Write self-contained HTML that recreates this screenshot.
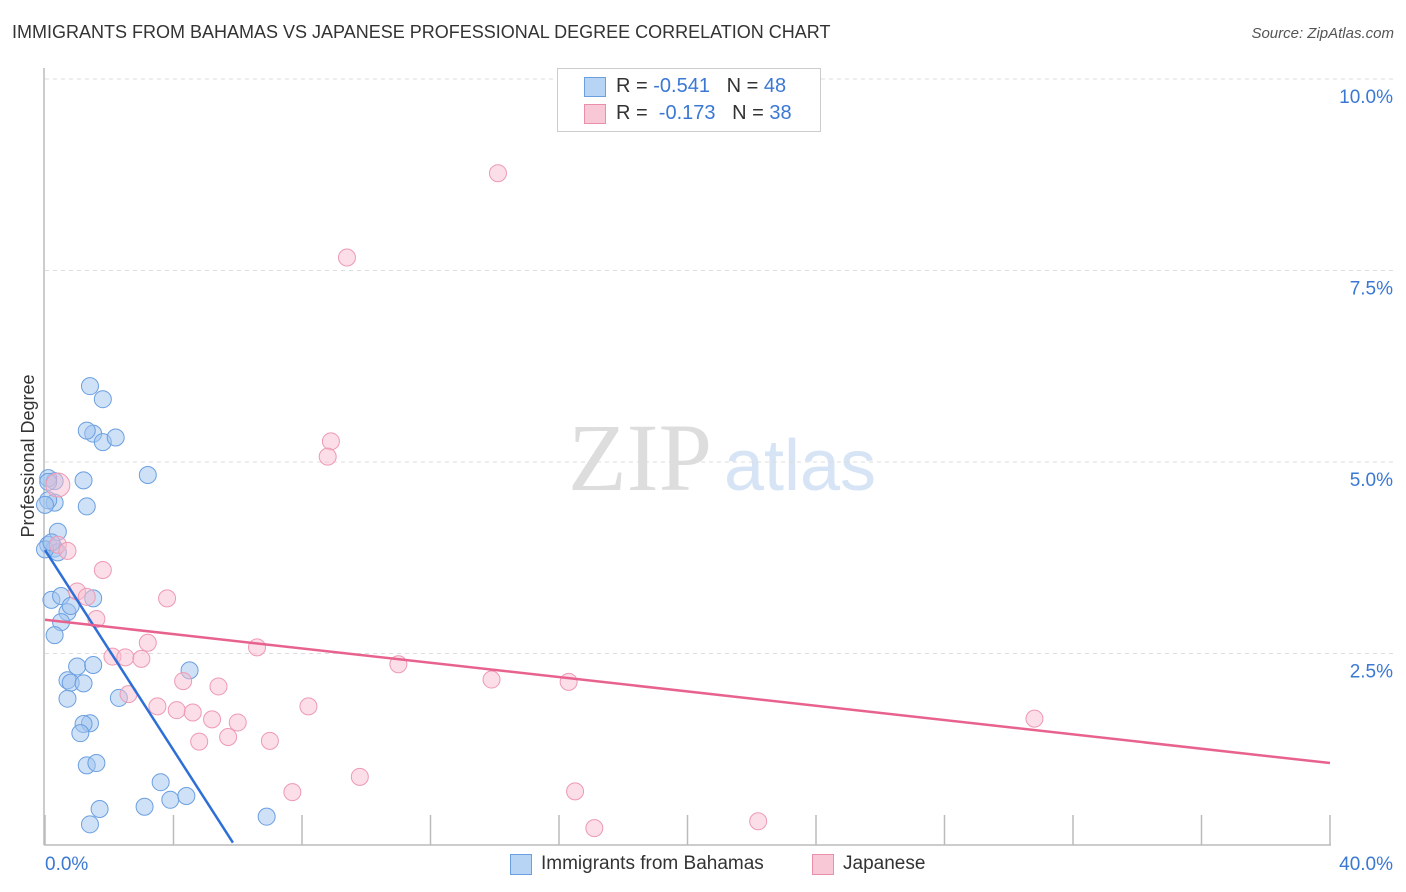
<!DOCTYPE html>
<html><head><meta charset="utf-8"><style>
body{margin:0;background:#fff;font-family:"Liberation Sans",sans-serif;}
#wrap{position:relative;width:1406px;height:892px;overflow:hidden;}
.t{position:absolute;white-space:nowrap;}
</style></head><body>
<div id="wrap">
<div class="t" style="left:12px;top:22px;font-size:18px;color:#333;">IMMIGRANTS FROM BAHAMAS VS JAPANESE PROFESSIONAL DEGREE CORRELATION CHART</div>
<div class="t" style="right:12px;top:25px;font-size:15px;color:#555;font-style:italic;">Source: ZipAtlas.com</div>
<svg id="svg" width="1406" height="892" style="position:absolute;left:0;top:0">
<text x="640" y="490" font-size="96" font-family="Liberation Serif" fill="#ddd" text-anchor="middle">ZIP</text>
<text x="800" y="490" font-size="72" font-family="Liberation Sans" fill="#d6e4f5" text-anchor="middle">atlas</text>
<text transform="translate(34,456) rotate(-90)" font-size="18" fill="#333" text-anchor="middle">Professional Degree</text>
<g id="grid"></g><g id="pts"></g><g id="lines"></g>
</svg>
<div style="position:absolute;left:557px;top:68px;width:262px;height:62px;border:1px solid #ccc;background:#fff;">
 <div style="position:absolute;left:26px;top:8px;width:20px;height:18px;background:#b8d4f5;border:1px solid #6a9fe0;"></div>
 <div class="t" style="left:58px;top:6px;font-size:20px;color:#333;">R = <span style="color:#3a78d4">-0.541</span> &nbsp; N = <span style="color:#3a78d4">48</span></div>
 <div style="position:absolute;left:26px;top:35px;width:20px;height:18px;background:#f9c8d6;border:1px solid #e890aa;"></div>
 <div class="t" style="left:58px;top:33px;font-size:20px;color:#333;">R = &nbsp;<span style="color:#3a78d4">-0.173</span> &nbsp; N = <span style="color:#3a78d4">38</span></div>
</div>
<div style="position:absolute;left:510px;top:854px;width:20px;height:19px;background:#b8d4f5;border:1px solid #6a9fe0;"></div>
<div class="t" style="left:541px;top:853px;font-size:19px;color:#333;">Immigrants from Bahamas</div>
<div style="position:absolute;left:812px;top:854px;width:20px;height:19px;background:#f9c8d6;border:1px solid #e890aa;"></div>
<div class="t" style="left:843px;top:853px;font-size:19px;color:#333;">Japanese</div>
</div>
<script>
const yTicks=[2.5,5.0,7.5,10.0];
const yTickLabels=["2.5%","5.0%","7.5%","10.0%"];
const xTickLabels=["0.0%","40.0%"];
const blueX=[1.4,1.8,1.5,1.3,1.8,2.2,3.2,0.3,0.1,1.2,1.3,0.3,0.4,0.1,0.3,0.4,1.5,0.2,0.5,0.7,0.5,0.3,0.8,4.5,0.7,0.8,1.0,1.5,1.2,2.3,0.7,1.4,1.2,1.1,1.3,1.6,3.6,3.9,4.4,3.1,1.7,1.4,6.9,0.0,0.1,0.1,0.0,0.2];
const blueY=[5.99,5.82,5.37,5.41,5.26,5.32,4.83,4.75,4.79,4.76,4.42,4.47,4.09,3.92,3.87,3.82,3.22,3.20,3.25,3.04,2.91,2.74,3.12,2.28,2.15,2.12,2.33,2.35,2.11,1.92,1.91,1.59,1.58,1.46,1.04,1.07,0.82,0.59,0.64,0.50,0.47,0.27,0.37,3.86,4.74,4.50,4.44,3.95];
const pinkX=[14.1,9.4,8.9,8.8,0.4,0.4,0.7,1.8,3.8,1.0,1.3,1.6,3.2,6.6,2.1,2.5,3.0,11.0,13.9,16.3,30.8,4.3,5.4,2.6,3.5,4.1,4.6,8.2,5.2,6.0,5.7,4.8,7.0,9.8,7.7,16.5,17.1,22.2];
const pinkY=[8.77,7.67,5.27,5.07,4.70,3.92,3.84,3.59,3.22,3.31,3.24,2.95,2.64,2.58,2.46,2.45,2.43,2.36,2.16,2.13,1.65,2.14,2.07,1.97,1.81,1.76,1.73,1.81,1.64,1.60,1.41,1.35,1.36,0.89,0.69,0.70,0.22,0.31];
const blueTrend=[[0,3.85],[5.85,0.03]];
const pinkTrend=[[0,2.94],[40,1.07]];
const NS="http://www.w3.org/2000/svg";
const X0=45,X1=1330,Y0=845,YPX=76.6;
const xs=v=>X0+v/40*(X1-X0), ys=v=>Y0-v*YPX;
function mk(tag,attrs,parent){const e=document.createElementNS(NS,tag);for(const k in attrs)e.setAttribute(k,attrs[k]);document.getElementById(parent).appendChild(e);return e;}
let e=mk('line',{x1:44,y1:68,x2:44,y2:845,stroke:'#bbb','stroke-width':1.5},'grid');


e=mk('line',{x1:44,y1:845,x2:1331,y2:845,stroke:'#bbb','stroke-width':1.5},'grid');


e=mk('line',{x1:45,y1:79,x2:1395,y2:79,stroke:'#ddd','stroke-dasharray':'4,4'},'grid');


yTicks.forEach((v,i)=>{
 let g=mk('line',{x1:45,y1:ys(v),x2:1395,y2:ys(v),stroke:'#ddd','stroke-dasharray':'4,4'},'grid');
 
 
 let t=mk('text',{x:1393,y:ys(v)+(v==10?24:24),'font-size':19,fill:'#3a78d4','text-anchor':'end'},'grid');
 t.textContent=yTickLabels[i];
 
 
});
for(let i=0;i<=10;i++){
 let g=mk('line',{x1:xs(i*4),y1:815,x2:xs(i*4),y2:845,stroke:'#bbb','stroke-width':1.5},'grid');
 
 
}
[[0,'start',45],[40,'end',1393]].forEach((a,i)=>{
 let t=mk('text',{x:a[2],y:870,'font-size':19,fill:'#3a78d4','text-anchor':a[1]},'grid');
 t.textContent=xTickLabels[i];
 
 
});
blueX.forEach((x,i)=>{
 let c=mk('circle',{cx:xs(x),cy:ys(blueY[i]),r:8.5,fill:'rgba(160,196,240,0.5)',stroke:'#6a9fe0','stroke-width':1},'pts');
 
 
});
pinkX.forEach((x,i)=>{
 let c=mk('circle',{cx:xs(x),cy:ys(pinkY[i]),r:i==4?12:8.5,fill:'rgba(248,190,208,0.5)',stroke:'#ee9ab4','stroke-width':1},'pts');
 
 
});
let l=mk('line',{x1:xs(blueTrend[0][0]),y1:ys(blueTrend[0][1]),x2:xs(blueTrend[1][0]),y2:ys(blueTrend[1][1]),stroke:'#2d6fd6','stroke-width':2.5},'lines');


l=mk('line',{x1:xs(pinkTrend[0][0]),y1:ys(pinkTrend[0][1]),x2:xs(pinkTrend[1][0]),y2:ys(pinkTrend[1][1]),stroke:'#e8628e','stroke-width':2.5},'lines');


</script>
</body></html>
